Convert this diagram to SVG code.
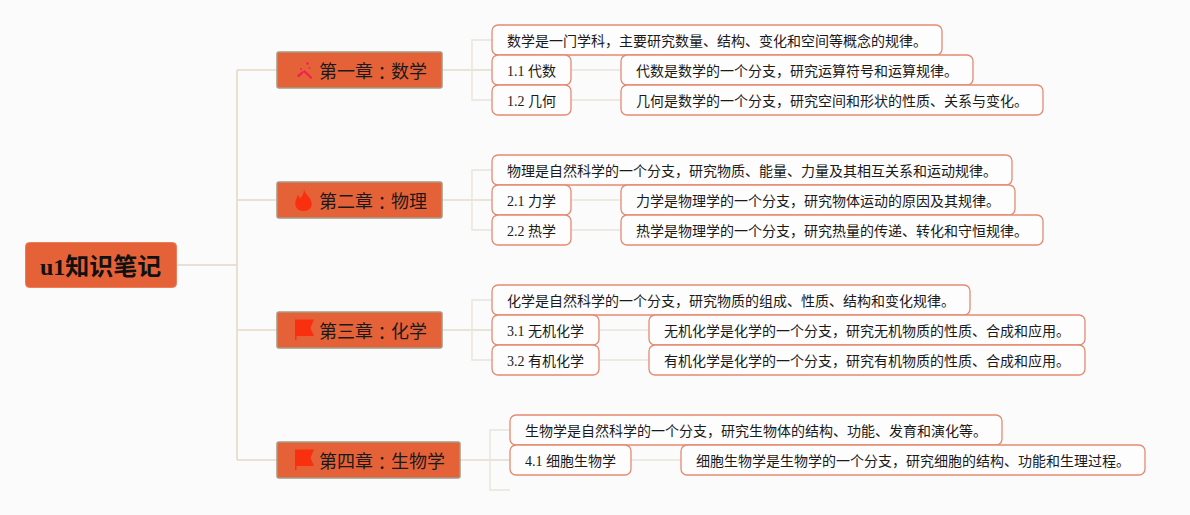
<svg xmlns="http://www.w3.org/2000/svg" width="1190" height="515" viewBox="0 0 1190 515">
<style>
text{font-family:"Liberation Serif","Noto Sans CJK SC",sans-serif;fill:#1a1a1a;dominant-baseline:central}
.colon{font-family:"Noto Sans CJK JP",sans-serif}
.root rect{fill:#e56239;stroke:#ee7c58;stroke-width:1}
.root text{font-size:24px;font-weight:700;fill:#111}
.ch rect{fill:#e56239;stroke:#a39a85;stroke-width:1.5}
.ch text{font-size:18px}
.lf rect{fill:#fdfdfd;stroke:#e58a72;stroke-width:1.3}
.lf text{font-size:14px}
.c1{fill:none;stroke:#e5d9c8;stroke-width:1.6}
.c2{fill:none;stroke:#e9e5dc;stroke-width:1.4}
.c3{fill:none;stroke:#e5dccb;stroke-width:1.6}
</style>
<rect width="1190" height="515" fill="#fbfbfb"/>
<g id="connectors">
<path class="c1" d="M177 265H237M237 70V460M237 70H277M237 200H277M237 330H277M237 460H277"/>
<path class="c3" d="M442 70H492M442 200H492M442 330H492M460 460H510"/>
<path class="c2" d="M492 40H472V100H492M492 170H472V230H492M492 300H472V360H492M510 430H490V490H510"/>
<path class="c2" d="M571 70H621M571 100H621M571 200H621M571 230H621M599 330H649M599 360H649M631 460H681"/>
</g>
<g id="root" class="root"><rect x="25.500" y="242.500" width="151" height="45" rx="4"/><text x="40" y="267">u1知识笔记</text></g>
<g id="ch1" class="ch"><rect x="277" y="52" width="165" height="36" rx="2"/>
<g fill="#f0204f"><path d="M297 75.500l5.500-4.500 1.300 1.500-5 5z"/><path d="M304.500 70l8 7.500-1.500 1.500-8-7.500z"/><circle cx="307.500" cy="63.500" r="1.300"/><circle cx="309.500" cy="68" r="1"/><circle cx="301" cy="69" r="1"/></g>
<text x="319" y="71.500">第一章<tspan class="colon">：</tspan>数学</text></g>
<g id="ch2" class="ch"><rect x="277" y="182" width="165" height="36" rx="2"/>
<path fill="#f8300f" d="M304 189c.6 4 3.600 6 6 9.500 3 5 2.500 11.500-5.500 12.500-7.500.5-10-5-9-9.500.5-2.500 1.800-4 2.500-6.500 1 1 1.700 2.300 1.800 3.800 2.500-2.300 4.200-5.800 4.200-9.800z"/>
<text x="319" y="201.500">第二章<tspan class="colon">：</tspan>物理</text></g>
<g id="ch3" class="ch"><rect x="277" y="312" width="165" height="36" rx="2"/>
<path fill="#f8300f" d="M295 319.500H314L310.500 328 314 336H296.500V340H295z"/>
<text x="319" y="331.500">第三章<tspan class="colon">：</tspan>化学</text></g>
<g id="ch4" class="ch"><rect x="277" y="442" width="183" height="36" rx="2"/>
<path fill="#f8300f" d="M295 449.500H314L310.500 458 314 466H296.500V470H295z"/>
<text x="319" y="461.500">第四章<tspan class="colon">：</tspan>生物学</text></g>
<g id="n1" class="lf"><rect x="492" y="25" width="450" height="30" rx="6"/><text x="507" y="41">数学是一门学科，主要研究数量、结构、变化和空间等概念的规律。</text></g>
<g id="n11" class="lf"><rect x="492" y="55" width="79" height="30" rx="6"/><text x="507" y="71">1.1 代数</text></g>
<g id="n11a" class="lf"><rect x="621" y="55" width="352" height="30" rx="6"/><text x="636" y="71">代数是数学的一个分支，研究运算符号和运算规律。</text></g>
<g id="n12" class="lf"><rect x="492" y="85" width="79" height="30" rx="6"/><text x="507" y="101">1.2 几何</text></g>
<g id="n12a" class="lf"><rect x="621" y="85" width="422" height="30" rx="6"/><text x="636" y="101">几何是数学的一个分支，研究空间和形状的性质、关系与变化。</text></g>
<g id="n2" class="lf"><rect x="492" y="155" width="520" height="30" rx="6"/><text x="507" y="171">物理是自然科学的一个分支，研究物质、能量、力量及其相互关系和运动规律。</text></g>
<g id="n21" class="lf"><rect x="492" y="185" width="79" height="30" rx="6"/><text x="507" y="201">2.1 力学</text></g>
<g id="n21a" class="lf"><rect x="621" y="185" width="394" height="30" rx="6"/><text x="636" y="201">力学是物理学的一个分支，研究物体运动的原因及其规律。</text></g>
<g id="n22" class="lf"><rect x="492" y="215" width="79" height="30" rx="6"/><text x="507" y="231">2.2 热学</text></g>
<g id="n22a" class="lf"><rect x="621" y="215" width="422" height="30" rx="6"/><text x="636" y="231">热学是物理学的一个分支，研究热量的传递、转化和守恒规律。</text></g>
<g id="n3" class="lf"><rect x="492" y="285" width="478" height="30" rx="6"/><text x="507" y="301">化学是自然科学的一个分支，研究物质的组成、性质、结构和变化规律。</text></g>
<g id="n31" class="lf"><rect x="492" y="315" width="107" height="30" rx="6"/><text x="507" y="331">3.1 无机化学</text></g>
<g id="n31a" class="lf"><rect x="649" y="315" width="436" height="30" rx="6"/><text x="664" y="331">无机化学是化学的一个分支，研究无机物质的性质、合成和应用。</text></g>
<g id="n32" class="lf"><rect x="492" y="345" width="107" height="30" rx="6"/><text x="507" y="361">3.2 有机化学</text></g>
<g id="n32a" class="lf"><rect x="649" y="345" width="436" height="30" rx="6"/><text x="664" y="361">有机化学是化学的一个分支，研究有机物质的性质、合成和应用。</text></g>
<g id="n4" class="lf"><rect x="510" y="415" width="492" height="30" rx="6"/><text x="525" y="431">生物学是自然科学的一个分支，研究生物体的结构、功能、发育和演化等。</text></g>
<g id="n41" class="lf"><rect x="510" y="445" width="121" height="30" rx="6"/><text x="525" y="461">4.1 细胞生物学</text></g>
<g id="n41a" class="lf"><rect x="681" y="445" width="464" height="30" rx="6"/><text x="696" y="461">细胞生物学是生物学的一个分支，研究细胞的结构、功能和生理过程。</text></g>
</svg>
